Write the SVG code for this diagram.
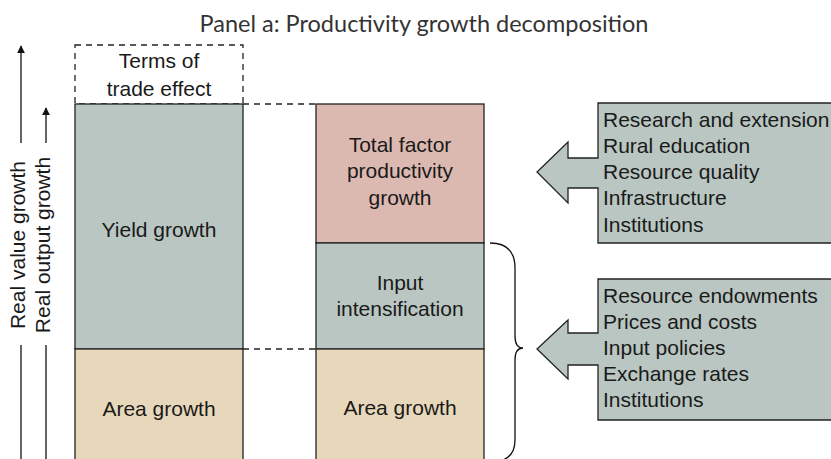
<svg xmlns="http://www.w3.org/2000/svg" width="831" height="459" viewBox="0 0 831 459">
<style>
.t{font-family:"Liberation Sans",Arial,sans-serif;font-size:21px;fill:#1a1a1a}
.c{text-anchor:middle}
.gray{fill:#b9c6c1;stroke:#222;stroke-width:1.3}
.pink{fill:#dcb9b0;stroke:#222;stroke-width:1.3}
.tan{fill:#e8d8bb;stroke:#222;stroke-width:1.3}
.dash{fill:none;stroke:#222;stroke-width:1.3;stroke-dasharray:6 5}
.ln{fill:none;stroke:#111;stroke-width:1.3}
</style>
<defs>
<marker id="ah" viewBox="0 0 10 10" refX="9" refY="5" markerWidth="8" markerHeight="8" markerUnits="userSpaceOnUse" orient="auto"><path d="M0,0 L10,5 L0,10 z" fill="#111"/></marker>
</defs>
<rect width="831" height="459" fill="#fff"/>
<text x="424" y="32" text-anchor="middle" font-family="Lato,'Noto Sans',sans-serif" font-size="23.5" fill="#333">Panel a: Productivity growth decomposition</text>

<g id="axis-value">
<line class="ln" x1="21" y1="459" x2="21" y2="345"/>
<line class="ln" x1="21" y1="143" x2="21" y2="46" marker-end="url(#ah)"/>
<text class="t c" transform="translate(25,245) rotate(-90)">Real value growth</text>
</g>
<g id="axis-output">
<line class="ln" x1="46" y1="459" x2="46" y2="345"/>
<line class="ln" x1="46" y1="143" x2="46" y2="108" marker-end="url(#ah)"/>
<text class="t c" transform="translate(50,245) rotate(-90)">Real output growth</text>
</g>

<g id="terms-of-trade">
<rect class="dash" x="75" y="45" width="168" height="59"/>
<text class="t c" x="159" y="68">Terms of</text>
<text class="t c" x="159" y="96">trade effect</text>
</g>
<g id="yield-growth">
<rect class="gray" x="75" y="104" width="168" height="245"/>
<text class="t c" x="159" y="237">Yield growth</text>
</g>
<g id="area-growth-left">
<rect class="tan" x="75" y="349" width="168" height="115"/>
<text class="t c" x="159" y="416">Area growth</text>
</g>

<g id="tfp">
<rect class="pink" x="316" y="104" width="168" height="139"/>
<text class="t c" x="400" y="152">Total factor</text>
<text class="t c" x="400" y="178">productivity</text>
<text class="t c" x="400" y="205">growth</text>
</g>
<g id="input-intensification">
<rect class="gray" x="316" y="243" width="168" height="106"/>
<text class="t c" x="400" y="290">Input</text>
<text class="t c" x="400" y="316">intensification</text>
</g>
<g id="area-growth-right">
<rect class="tan" x="316" y="349" width="168" height="115"/>
<text class="t c" x="400" y="415">Area growth</text>
</g>

<g id="connectors">
<line class="dash" x1="243" y1="104" x2="316" y2="104"/>
<line class="dash" x1="243" y1="349" x2="316" y2="349"/>
<path class="ln" d="M490,243 Q515,243 515,268 L515,336 Q515,348 523,348 Q515,348 515,360 L515,440 Q515,462 490,462"/>
</g>

<g id="tfp-drivers">
<path class="gray" d="M598,103 L835,103 L835,243 L598,243 L598,188 L568,188 L568,203 L537,172 L568,142 L568,158 L598,158 Z"/>
<text class="t" x="603" y="127">Research and extension</text>
<text class="t" x="603" y="153">Rural education</text>
<text class="t" x="603" y="179">Resource quality</text>
<text class="t" x="603" y="205">Infrastructure</text>
<text class="t" x="603" y="232">Institutions</text>
</g>
<g id="input-drivers">
<path class="gray" d="M598,279 L835,279 L835,420 L598,420 L598,365 L568,365 L568,379 L537,349 L568,320 L568,333 L598,333 Z"/>
<text class="t" x="603" y="303">Resource endowments</text>
<text class="t" x="603" y="329">Prices and costs</text>
<text class="t" x="603" y="355">Input policies</text>
<text class="t" x="603" y="381">Exchange rates</text>
<text class="t" x="603" y="407">Institutions</text>
</g>
</svg>
